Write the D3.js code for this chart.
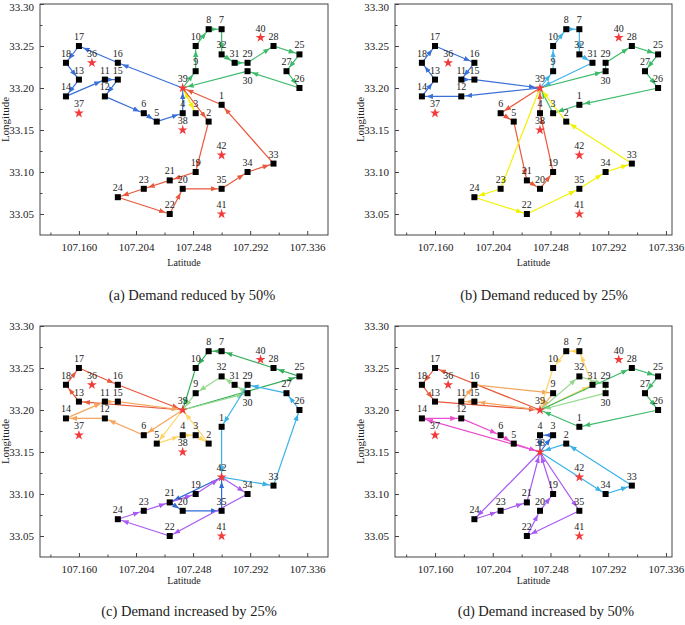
<!DOCTYPE html>
<html>
<head>
<meta charset="utf-8">
<script src="https://cdn.jsdelivr.net/npm/d3@7/dist/d3.min.js"></script>
<style>
    body { margin: 0; background: #fff; }
    svg text { font-family: "Liberation Serif", "Times New Roman", serif; fill: #222; }
</style>
</head>
<body>
<svg id="chart" width="685" height="625"></svg>
<script>
// Knudepunkter 1..42 (x = "Latitude"-aksen, y = "Longitude"-aksen)
const nodeX = [107.27, 107.26, 107.25, 107.24, 107.22, 107.21, 107.27, 107.26, 107.25, 107.25,
    107.18, 107.18, 107.16, 107.15, 107.19, 107.19, 107.16, 107.15, 107.25, 107.24,
    107.23, 107.23, 107.21, 107.19, 107.33, 107.33, 107.32, 107.31, 107.29, 107.29,
    107.28, 107.27, 107.31, 107.29, 107.27, 107.17, 107.16, 107.24, 107.24, 107.30,
    107.27, 107.27];
const nodeY = [33.18, 33.16, 33.17, 33.17, 33.16, 33.17, 33.27, 33.27, 33.22, 33.25,
    33.21, 33.19, 33.21, 33.19, 33.21, 33.23, 33.25, 33.23, 33.10, 33.08,
    33.09, 33.05, 33.08, 33.07, 33.24, 33.20, 33.22, 33.25, 33.23, 33.22,
    33.23, 33.24, 33.11, 33.10, 33.08, 33.23, 33.17, 33.15, 33.20, 33.26,
    33.05, 33.12];
const depotIds = [36, 37, 38, 39, 40, 41, 42];

// Ruter for hvert scenarie
const routesA = [
    [39, 16, 17, 18, 13, 14, 11, 15, 12, 6, 5, 4, 39],
    [39, 3, 39],
    [39, 2, 19, 21, 23, 24, 22, 20, 35, 34, 33, 1, 39],
    [39, 9, 10, 8, 7, 32, 31, 29, 28, 25, 27, 26, 30, 39]
];
const colorsA = ["#3a70d8", "#f2f200", "#e8583c", "#3dba6a"];

const routesB = [
    [39, 12, 14, 13, 18, 17, 16, 11, 15, 39],
    [39, 9, 10, 8, 7, 32, 31, 39],
    [39, 30, 29, 28, 25, 27, 26, 1, 3, 39],
    [39, 6, 5, 21, 20, 19, 4, 39],
    [39, 23, 24, 22, 35, 34, 33, 2, 39]
];
const colorsB = ["#3a70d8", "#3fb3e8", "#3dba6a", "#e8583c", "#f2f200"];

const routesC = [
    [39, 13, 18, 17, 16, 39],
    [39, 6, 12, 14, 11, 15, 39],
    [39, 5, 4, 3, 2, 39],
    [39, 25, 28, 7, 8, 10, 39],
    [39, 30, 31, 32, 9, 39],
    [42, 33, 26, 27, 29, 1, 42],
    [42, 21, 20, 35, 42],
    [42, 34, 22, 24, 23, 21, 19, 42]
];
const colorsC = ["#e8583c", "#f5a55e", "#ffd463", "#35ad5a", "#93d98c", "#3ab2e8", "#2f6ad8", "#a85af2"];

const routesD = [
    [39, 17, 18, 13, 39],
    [39, 15, 11, 16, 9, 39],
    [39, 31, 7, 8, 10, 39],
    [39, 32, 29, 30, 39],
    [39, 28, 25, 27, 26, 1, 39],
    [38, 14, 12, 6, 5, 38],
    [38, 3, 4, 38],
    [38, 34, 33, 2, 38],
    [38, 24, 23, 21, 38],
    [38, 35, 22, 20, 19, 38]
];
const colorsD = ["#e8583c", "#f5a55e", "#ffd463", "#93d98c", "#3dba6a", "#e84fcf", "#2f6ad8", "#3ab2e8", "#a85af2", "#a85af2"];

// Akser
const xTicks = [107.160, 107.204, 107.248, 107.292, 107.336];
const xMinorTicks = [107.138, 107.182, 107.226, 107.270, 107.314];
const yTicks = [33.05, 33.10, 33.15, 33.20, 33.25, 33.30];
const yMinorTicks = [33.075, 33.125, 33.175, 33.225, 33.275];

const captions = ["(a) Demand reduced by 50%", "(b) Demand reduced by 25%",
    "(c) Demand increased by 25%", "(d) Demand increased by 50%"];

const svg = d3.select("#chart");
const defs = svg.append("defs");

const markerIds = {};
function arrowFor(color) {
    if (!markerIds[color]) {
        const id = "arr" + Object.keys(markerIds).length;
        defs.append("marker")
            .attr("id", id)
            .attr("viewBox", "0 -5 10 10")
            .attr("refX", 17)
            .attr("refY", 0)
            .attr("markerWidth", 6.5)
            .attr("markerHeight", 6.5)
            .attr("markerUnits", "userSpaceOnUse")
            .attr("orient", "auto")
            .append("path")
            .attr("d", "M0,-4L10,0L0,4Z")
            .attr("fill", color);
        markerIds[color] = id;
    }
    return markerIds[color];
}

// titelafstande: øverste og nederste række ligger lidt forskelligt
const panels = [
    { left: 40, right: 328, top: 4, bottom: 235, xDom: [107.130, 107.352], routes: routesA, colors: colorsA, cx: 192, latY: 31, capY: 65 },
    { left: 395, right: 672, top: 4, bottom: 235, xDom: [107.1295, 107.3406], routes: routesB, colors: colorsB, cx: 544, latY: 31, capY: 65 },
    { left: 40, right: 328, top: 326, bottom: 557, xDom: [107.130, 107.352], routes: routesC, colors: colorsC, cx: 189, latY: 27, capY: 59 },
    { left: 395, right: 672, top: 326, bottom: 557, xDom: [107.1295, 107.3406], routes: routesD, colors: colorsD, cx: 546, latY: 27, capY: 59 }
];

panels.forEach(function (p, pi) {
    const g = svg.append("g");

    const xScale = d3.scaleLinear().domain(p.xDom).range([p.left, p.right]);
    const yScale = d3.scaleLinear().domain([33.025, 33.30]).range([p.bottom, p.top]);

    // ramme
    g.append("rect")
        .attr("x", p.left).attr("y", p.top)
        .attr("width", p.right - p.left).attr("height", p.bottom - p.top)
        .attr("fill", "none").attr("stroke", "#444").attr("stroke-width", 1);

    // x-akse med indadvendte ticks
    g.append("g")
        .attr("transform", `translate(0,${p.bottom})`)
        .call(d3.axisBottom(xScale).tickValues(xTicks).tickFormat(d3.format(".3f")).tickSize(-4).tickPadding(8));
    g.append("g")
        .attr("transform", `translate(0,${p.bottom})`)
        .call(d3.axisBottom(xScale).tickValues(xMinorTicks).tickFormat("").tickSize(-2.5));

    const yAxis = g.append("g")
        .attr("transform", `translate(${p.left},0)`)
        .call(d3.axisLeft(yScale).tickValues(yTicks).tickFormat(d3.format(".2f")).tickSize(-4).tickPadding(6));
    g.append("g")
        .attr("transform", `translate(${p.left},0)`)
        .call(d3.axisLeft(yScale).tickValues(yMinorTicks).tickFormat("").tickSize(-2.5));

    g.selectAll(".domain").remove();
    g.selectAll(".tick line").attr("stroke", "#444");
    g.selectAll(".tick text").attr("font-size", 11).attr("fill", "#222");
    // øverste label må ikke skæres af ved kanten
    yAxis.selectAll(".tick text").filter(d => d == 33.30).attr("dy", p.top < 10 ? "0.62em" : "0.32em");

    // aksetitler
    g.append("text")
        .attr("x", (p.left + p.right) / 2)
        .attr("y", p.bottom + p.latY)
        .attr("text-anchor", "middle")
        .attr("font-size", 10)
        .text("Latitude");
    g.append("text")
        .attr("transform", `translate(${p.left - 31},${(p.top + p.bottom) / 2}) rotate(-90)`)
        .attr("text-anchor", "middle")
        .attr("font-size", 11)
        .text("Longitude");
    g.append("text")
        .attr("x", p.cx)
        .attr("y", p.bottom + p.capY)
        .attr("text-anchor", "middle")
        .attr("font-size", 14.5)
        .text(captions[pi]);

    // rutesegmenter med pile
    p.routes.forEach(function (route, ri) {
        const color = p.colors[ri];
        const segs = d3.pairs(route);
        g.selectAll(null)
            .data(segs)
            .enter()
            .append("line")
            .attr("x1", d => xScale(nodeX[d[0] - 1]))
            .attr("y1", d => yScale(nodeY[d[0] - 1]))
            .attr("x2", d => xScale(nodeX[d[1] - 1]))
            .attr("y2", d => yScale(nodeY[d[1] - 1]))
            .attr("stroke", color)
            .attr("stroke-width", 1.2)
            .attr("marker-end", `url(#${arrowFor(color)})`);
    });

    const ids = d3.range(1, 43);
    const customers = ids.filter(i => depotIds.indexOf(i) < 0);

    g.selectAll(null)
        .data(customers)
        .enter()
        .append("rect")
        .attr("x", i => xScale(nodeX[i - 1]) - 3)
        .attr("y", i => yScale(nodeY[i - 1]) - 3)
        .attr("width", 6)
        .attr("height", 6)
        .attr("fill", "#000");

    g.selectAll(null)
        .data(depotIds)
        .enter()
        .append("path")
        .attr("transform", i => `translate(${xScale(nodeX[i - 1])},${yScale(nodeY[i - 1])})`)
        .attr("d", d3.symbol(d3.symbolStar).size(30))
        .attr("fill", "#f23a3a");

    g.selectAll(null)
        .data(ids)
        .enter()
        .append("text")
        .attr("x", i => xScale(nodeX[i - 1]))
        .attr("y", i => yScale(nodeY[i - 1]) + (i == 30 ? 13 : -6))
        .attr("text-anchor", "middle")
        .attr("font-size", 10)
        .text(i => i);
});
</script>
</body>
</html>
